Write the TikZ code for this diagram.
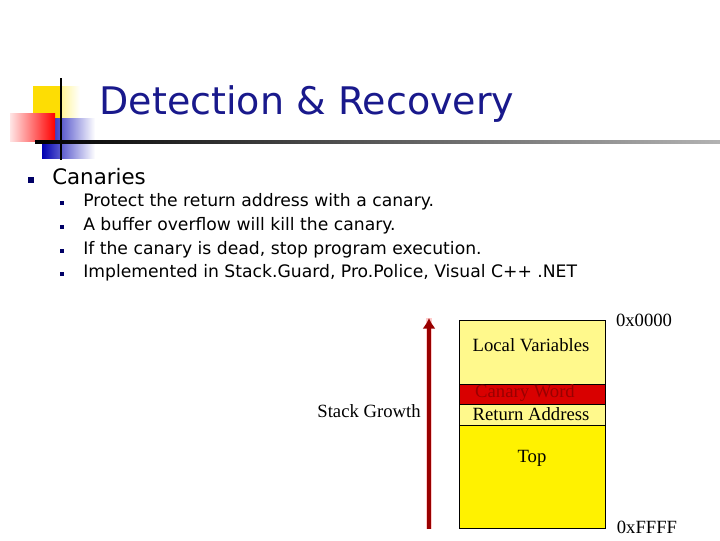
\documentclass[tikz,border=0pt]{standalone}
\usepackage{fontspec}
\usetikzlibrary{fadings,arrows.meta}
\setmainfont{DejaVu Sans}
\newfontfamily\serifx{Liberation Serif}
\begin{document}
\begin{tikzpicture}[x=0.75pt,y=-0.75pt,
  bul/.style={fill=blue!40!black,minimum size=5pt,inner sep=0pt},
  sbul/.style={fill=blue!40!black,minimum size=3.5pt,inner sep=0pt},
  item/.style={anchor=west,inner sep=0pt,font=\fontsize{12.9}{14}\selectfont},
  stk/.style={draw=black,line width=0.6pt},
  lbl/.style={font=\serifx\fontsize{14}{16}\selectfont,inner sep=0pt}]
\useasboundingbox (0,0) rectangle (720,540);
\fill[white] (0,0) rectangle (720,540);
% logo
\shade[left color=yellow!80!orange,right color=white] (33,86) rectangle (80,118);
\fill[yellow!80!orange] (33,86) rectangle (62,118);
\shade[left color=blue!70!black,right color=white] (42,118) rectangle (95,158);
\shade[left color=red!10,right color=red] (10,113) rectangle (55,141);
\draw[line width=1.3pt] (61,78) -- (61,160);
\shade[left color=black,right color=gray!60] (35,140) rectangle (720,143);
\node[font=\fontsize{28.5}{32}\selectfont,text=blue!50!black!90!white,inner sep=0pt] (title) at (307,104) {Detection \& Recovery};
% bullets
\node[bul] (b0) at (31,180) {};
\node[item,font=\fontsize{16}{18}\selectfont] (t0) at (52,177) {Canaries};
\node[sbul] (b1) at (62,203) {};
\node[item] (t1) at (83,202) {Protect the return address with a canary.};
\node[sbul] (b2) at (62,227) {};
\node[item] (t2) at (83,226) {A buffer overflow will kill the canary.};
\node[sbul] (b3) at (62,251) {};
\node[item] (t3) at (83,250) {If the canary is dead, stop program execution.};
\node[sbul] (b4) at (62,274) {};
\node[item] (t4) at (83,273) {Implemented in Stack.Guard, Pro.Police, Visual C++ .NET};
% stack
\fill[yellow!45] (459,320) rectangle (605,384);
\fill[red!85!black] (459,384) rectangle (605,404);
\fill[yellow!45] (459,404) rectangle (605,425);
\fill[yellow] (459,425) rectangle (605,528);
\draw[stk] (459,320) rectangle (605,528);
\draw[stk] (459,384) -- (605,384);
\draw[stk] (459,404) -- (605,404);
\draw[stk] (459,425) -- (605,425);
\node[lbl] (lv) at (531,345) {Local Variables};
\node[lbl,text=red!60!black] (cw) at (525,393) {Canary Word};
\node[lbl] (ra) at (531,414) {Return Address};
\node[lbl] (tp) at (532,458) {Top};
\node[lbl] (h0) at (644,320) {0x0000};
\node[lbl] (hf) at (647,527) {0xFFFF};
\node[lbl] (sg) at (369,411) {Stack Growth};
\coordinate (ab) at (429,529);
\coordinate (at) at (429,318);
\draw[red!20,line width=5pt] (ab) -- (at);
\draw[red!60!black,line width=3pt,-{Latex[length=8pt,width=10pt]}] (ab) -- (at);
\end{tikzpicture}
\end{document}
